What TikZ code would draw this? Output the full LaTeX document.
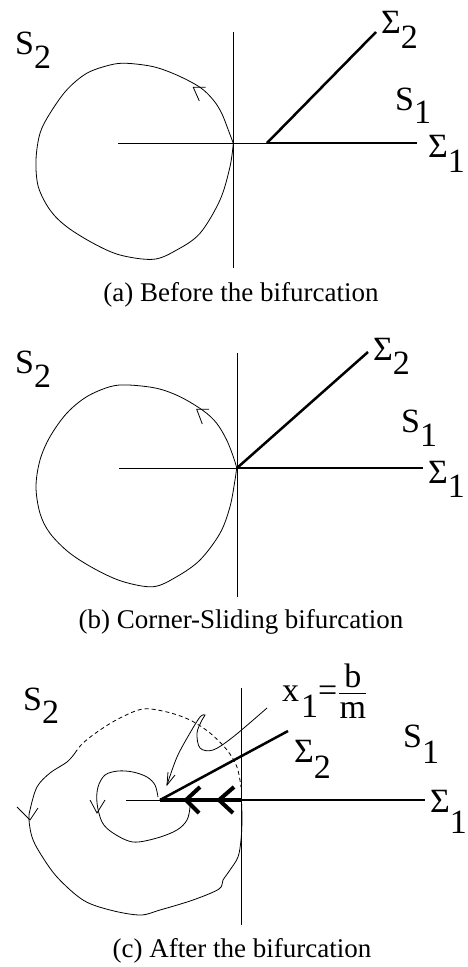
\documentclass[tikz,border=0pt]{standalone}
\usepackage{fontspec}
\setmainfont{Liberation Serif}
\begin{document}
\begin{tikzpicture}[x=1pt,y=-1pt,
  axisline/.style={line width=0.9pt},
  sigline/.style={line width=2.5pt},
  slideline/.style={line width=3.8pt},
  chev/.style={line width=4pt},
  orbit/.style={line width=0.8pt},
  lab/.style={font=\fontsize{34}{40}\selectfont, inner sep=0pt, anchor=base west},
  capt/.style={font=\fontsize{27}{32}\selectfont, inner sep=0pt, anchor=base}]
\useasboundingbox (0,0) rectangle (468,967);
% ---------- panel (a)
\coordinate (Oa) at (233,143);
\coordinate (Ta) at (233,32);
\coordinate (Ba) at (233,268);
\coordinate (La) at (118,143);
\coordinate (Ca) at (267,143);
\coordinate (E1a) at (417,143);
\coordinate (E2a) at (376,32);
\draw[axisline] (Ta) -- (Ba);
\draw[axisline] (La) -- (Ca);
\draw[sigline] (Ca) -- (E1a);
\draw[sigline] (Ca) -- (E2a);
\draw[orbit] plot[smooth, tension=0.55] coordinates {(233.3,143.3) (228.3,130) (221.7,113.3) (213.3,100) (200,87.3) (176.7,75) (153.3,66.7) (126.7,63.3) (110,65) (86.7,73.3) (66.7,90) (50,113.3) (40,133.3) (36,160) (38.3,186.7) (50,210) (66.7,226.7) (93.3,243.3) (120,255) (153.3,259.3) (176.7,250) (200,233.3) (220,200) (230,166.7) (233.3,143.3)};
\draw[orbit] (205.7,87.3) -- (193.3,87.3) -- (199.3,101);
\node[lab] (s2a) at (15,54) {S\raisebox{-14pt}{2}};
\node[lab] (g2a) at (381,33) {Σ\raisebox{-15pt}{2}};
\node[lab] (s1a) at (395,110) {S\raisebox{-13pt}{1}};
\node[lab] (g1a) at (428,157) {Σ\raisebox{-15pt}{1}};
\node[capt] (capa) at (241,301) {(a) Before the bifurcation};
% ---------- panel (b)
\coordinate (Tb) at (237,353);
\coordinate (Bb) at (237,597);
\coordinate (Lb) at (119,468);
\coordinate (Ob) at (237,468);
\coordinate (E1b) at (423,468);
\coordinate (E2b) at (368,352);
\draw[axisline] (Tb) -- (Bb);
\draw[axisline] (Lb) -- (Ob);
\draw[sigline] (Ob) -- (E1b);
\draw[sigline] (Ob) -- (E2b);
\draw[orbit] plot[smooth, tension=0.55] coordinates {(236.7,467.7) (233.3,456.7) (226.7,440) (216.7,423.3) (203.3,410.7) (180,396.7) (156.7,388.3) (128.3,385) (110,386.7) (86.7,396.7) (66.7,413.3) (50,436.7) (40,460) (36,486.7) (40,513.3) (50,533.3) (70,553.3) (96.7,570) (123.3,581.7) (153.3,586.7) (176.7,576.7) (200,560) (220,533.3) (230,506.7) (235,480) (236.7,467.7)};
\draw[orbit] (209,409.3) -- (196.7,409.3) -- (202.3,424);
\node[lab] (s2b) at (15,373) {S\raisebox{-14pt}{2}};
\node[lab] (g2b) at (373,360) {Σ\raisebox{-14pt}{2}};
\node[lab] (s1b) at (401,432) {S\raisebox{-14pt}{1}};
\node[lab] (g1b) at (428,483) {Σ\raisebox{-14pt}{1}};
\node[capt] (capb) at (241,628) {(b) Corner-Sliding bifurcation};
% ---------- panel (c)
\coordinate (Tc) at (241,688);
\coordinate (Bc) at (241,925);
\coordinate (Lc) at (126,800);
\coordinate (Kc) at (160,800);
\coordinate (Oc) at (241,800);
\coordinate (E1c) at (425,800);
\coordinate (E2c) at (288,731);
\draw[axisline] (Tc) -- (Bc);
\draw[axisline] (Lc) -- (Kc);
\draw[slideline] (Kc) -- (Oc);
\draw[sigline] (Oc) -- (E1c);
\draw[sigline] (Kc) -- (E2c);
\draw[chev] (200,787) -- (186,800) -- (199,813);
\draw[chev] (234,787) -- (219,800) -- (233,813);
% outer orbit
\draw[orbit] plot[smooth, tension=0.55] coordinates {(241.5,802) (242,820) (241,840) (238,857) (230,870) (223,880) (219,889) (193,900) (160,910) (140,915) (110,910) (83,900) (57,877) (40,853) (32,837) (29,820) (30,810) (37,787) (50,773) (67,762) (75,753)};
\draw[orbit, dash pattern=on 4pt off 3pt] plot[smooth, tension=0.55] coordinates {(75,753) (83,743) (100,730) (120,718) (143,709) (167,712) (190,720) (210,733) (227,750) (237,767) (241,787)};
\draw[orbit] (17,807) -- (30,820) -- (38,808);
% inner orbit
\draw[orbit] plot[smooth, tension=0.55] coordinates {(158,797) (155,785) (147,777) (133,772) (118,771) (105,775) (98,787) (97,803) (102,822) (113,833) (133,842) (157,838) (177,830) (187,820) (190,807) (189,801)};
\draw[orbit] (90,800) -- (97,813) -- (105,800);
% pointer
\draw[orbit] plot[smooth, tension=0.55] coordinates {(267,708) (233,737) (213,750) (200,748) (197,733) (202,720) (205,715) (200,717) (190,733) (177,757) (167,785)};
\draw[orbit] (168,772) -- (167,785) -- (175,775);
\node[lab] (s2c) at (23,710) {S\raisebox{-13pt}{2}};
\node[lab] (xc) at (282,701) {x\hspace{2pt}\raisebox{-16pt}{1}=\hspace{2pt}\raisebox{-17pt}{\vbox{\offinterlineskip\hbox to 27pt{\hfil b\hfil}\kern5.4pt\hrule height 1.2pt\kern7.8pt\hbox to 27pt{\hfil m\hfil}}}};
\node[lab] (g2c) at (294,762) {Σ\raisebox{-16pt}{2}};
\node[lab] (s1c) at (403,747) {S\raisebox{-16pt}{1}};
\node[lab] (g1c) at (430,812) {Σ\raisebox{-21pt}{1}};
\node[capt] (capc) at (242,957) {(c) After the bifurcation};
\end{tikzpicture}
\end{document}
